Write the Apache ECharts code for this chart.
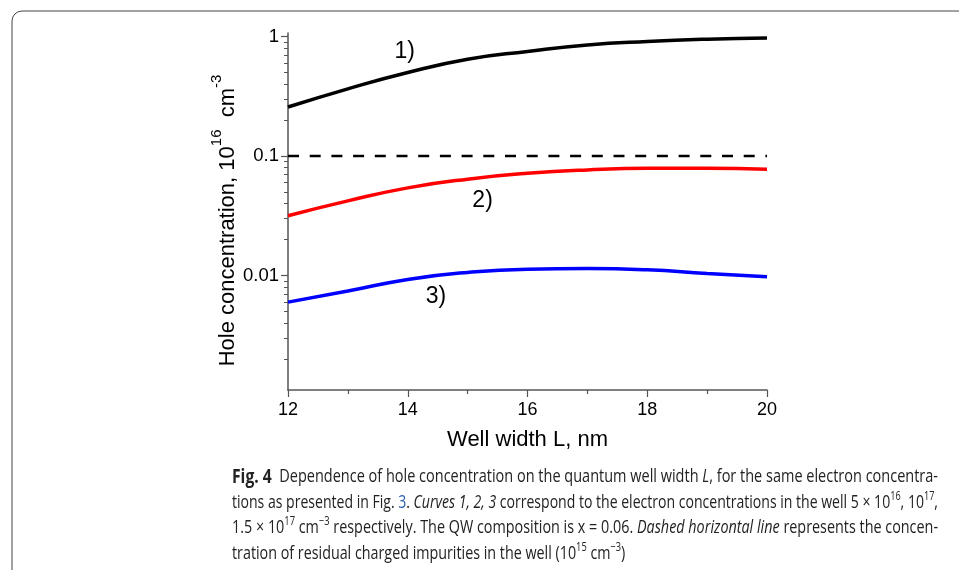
<!DOCTYPE html>
<html>
<head>
<meta charset="utf-8">
<title>Fig. 4</title>
<script src="https://cdn.jsdelivr.net/npm/echarts@6/dist/echarts.min.js"></script>
<style>
    html, body {margin: 0; padding: 0; background: #fff;}
    #holeChart {width: 959px; height: 570px;}
</style>
</head>
<body>
<div id="holeChart"></div>
<script>
"use strict";

// well width, nm
var wellWidth = [12, 13, 14, 15, 16, 17, 18, 19, 20];
// hole concentration, 1e16 cm^-3
var curve1 = [0.257, 0.365, 0.50, 0.645, 0.75, 0.85, 0.91, 0.95, 0.97];
var curve2 = [0.0316, 0.0421, 0.0541, 0.064, 0.0716, 0.0765, 0.0789, 0.0788, 0.0774];
var curve3 = [0.00598, 0.0074, 0.00926, 0.0106, 0.0113, 0.01144, 0.01116, 0.0104, 0.00975];
var impurityLevel = 0.1;
var yMajorTicks = [0.01, 0.1, 1];
var yMinorTicks = [0.002, 0.003, 0.004, 0.005, 0.006, 0.007, 0.008, 0.009,
    0.02, 0.03, 0.04, 0.05, 0.06, 0.07, 0.08, 0.09,
    0.2, 0.3, 0.4, 0.5, 0.6, 0.7, 0.8, 0.9];
var curveLabels = [['1)', 13.95, 0.745], ['2)', 15.25, 0.042], ['3)', 14.47, 0.00669]];

var axisFont = 'Liberation Sans, Arial, sans-serif';
var captionFont = '"Open Sans", "Noto Sans", sans-serif';

function pairs(ys) {
    var out = [];
    for (var i = 0; i < wellWidth.length; i++) {
        out.push([wellWidth[i], ys[i]]);
    }
    return out;
}

function curveSeries(name, ys, color, label) {
    return {
        name: name,
        type: 'line',
        smooth: true,
        symbol: 'none',
        lineStyle: {color: color, width: 3.5},
        data: pairs(ys),
        z: 3,
        markPoint: {
            symbol: 'circle',
            symbolSize: 0,
            silent: true,
            label: {show: true, position: 'inside', color: '#000', fontSize: 23, fontFamily: axisFont,
                formatter: function () { return label[0]; }},
            data: [{coord: [label[1], label[2]]}]
        }
    };
}

var capRich = {
    b: {fontWeight: 'bold', fontSize: 20, fontFamily: captionFont, fill: '#222', lineHeight: 24},
    i: {fontStyle: 'italic', fontSize: 18.5, fontFamily: captionFont, fill: '#222', lineHeight: 24},
    l: {fontSize: 18.5, fontFamily: captionFont, fill: '#2a5db0', lineHeight: 24},
    s: {fontSize: 12, fontFamily: captionFont, fill: '#222', verticalAlign: 'top', lineHeight: 24},
    n: {fontSize: 18.5, fontFamily: captionFont, fill: '#222', lineHeight: 24}
};

var captionLines = [
    '{b|Fig. 4}{n|  Dependence of hole concentration on the quantum well width }{i|L}{n|, for the same electron concentra-}',
    '{n|tions as presented in Fig. }{l|3}{n|. }{i|Curves 1, 2, 3}{n| correspond to the electron concentrations in the well 5 × 10}{s|16}{n|, 10}{s|17}{n|,}',
    '{n|1.5 × 10}{s|17}{n| cm}{s|−3}{n| respectively. The QW composition is x = 0.06. }{i|Dashed horizontal line}{n| represents the concen-}',
    '{n|tration of residual charged impurities in the well (10}{s|15}{n| cm}{s|−3}{n|)}'
];
var captionTop = [465, 491, 516, 542];
var captionWidth = 706;

// measure a rich caption line so it can be squeezed to the column width
var measureCtx = document.createElement('canvas').getContext('2d');
function richWidth(line) {
    var re = /\{(\w+)\|([^}]*)\}/g, m, w = 0;
    while ((m = re.exec(line)) !== null) {
        var st = capRich[m[1]];
        measureCtx.font = (st.fontStyle || 'normal') + ' ' + (st.fontWeight || 'normal') + ' ' +
            st.fontSize + 'px ' + st.fontFamily;
        w += measureCtx.measureText(m[2]).width;
    }
    return w;
}

var graphics = [{
    type: 'rect',
    shape: {x: 12, y: 11, width: 1000, height: 620, r: 10},
    style: {fill: 'none', stroke: '#444', lineWidth: 1},
    silent: true
}];
var scales = [], scaleSum = 0;
for (var c = 0; c < 3; c++) {
    scales.push(captionWidth / richWidth(captionLines[c]));
    scaleSum += scales[c];
}
scales.push(scaleSum / 3);
for (c = 0; c < captionLines.length; c++) {
    graphics.push({
        type: 'text',
        x: 232,
        y: captionTop[c],
        scaleX: scales[c],
        style: {text: captionLines[c], rich: capRich, font: '18.5px ' + captionFont, fill: '#222'},
        silent: true
    });
}

var holeChartOption = {
    animation: false,
    backgroundColor: '#fff',
    grid: {left: 288, right: 192, top: 33, bottom: 180},
    xAxis: {
        type: 'value',
        min: 12,
        max: 20,
        interval: 2,
        name: 'Well width L, nm',
        nameLocation: 'middle',
        nameGap: 39,
        nameTextStyle: {fontSize: 22, color: '#000', fontFamily: axisFont},
        axisLine: {lineStyle: {color: '#555', width: 1.5}},
        axisTick: {length: 7, lineStyle: {color: '#555', width: 1.2}},
        minorTick: {show: true, splitNumber: 2, length: 4, lineStyle: {color: '#555', width: 1.2}},
        axisLabel: {fontSize: 18, color: '#000', margin: 11, fontFamily: axisFont},
        splitLine: {show: false},
        minorSplitLine: {show: false}
    },
    yAxis: [{
        type: 'log',
        logBase: 10,
        min: 0.0011,
        max: 1.07,
        name: '{n|Hole concentration, 10}{s|16}{n|  cm}{s|-3}',
        nameLocation: 'middle',
        nameRotate: 90,
        nameGap: 49,
        nameTextStyle: {
            color: '#000',
            padding: [0, 18, 0, 0],
            rich: {
                n: {fontSize: 22, fontFamily: axisFont, color: '#000', lineHeight: 30, verticalAlign: 'bottom'},
                s: {fontSize: 15, fontFamily: axisFont, color: '#000', lineHeight: 30, verticalAlign: 'top'}
            }
        },
        axisLine: {onZero: false, lineStyle: {color: '#555', width: 1.5}},
        axisTick: {length: 7, customValues: yMajorTicks, lineStyle: {color: '#555', width: 1.2}},
        axisLabel: {fontSize: 18.5, color: '#000', margin: 9, fontFamily: axisFont, customValues: yMajorTicks,
            formatter: function (v) { return String(+(+v).toPrecision(3)); }},
        splitLine: {show: false}
    }, {
        type: 'log',
        logBase: 10,
        min: 0.0011,
        max: 1.07,
        position: 'left',
        axisLine: {show: false},
        axisTick: {length: 4, customValues: yMinorTicks, lineStyle: {color: '#555', width: 1}},
        axisLabel: {show: false},
        splitLine: {show: false}
    }],
    series: [
        curveSeries('1', curve1, '#000000', curveLabels[0]),
        curveSeries('2', curve2, '#ff0000', curveLabels[1]),
        curveSeries('3', curve3, '#0000ff', curveLabels[2]),
        {
            name: 'impurities',
            type: 'line',
            symbol: 'none',
            lineStyle: {color: '#000', width: 2.5, type: [11, 10.7]},
            data: [[wellWidth[0], impurityLevel], [wellWidth[wellWidth.length - 1], impurityLevel]],
            z: 2
        }
    ],
    graphic: graphics
};

function initHoleChart() {
    var holeChart = echarts.init(document.getElementById('holeChart'));
    holeChart.setOption(holeChartOption);
}

initHoleChart();
</script>
</body>
</html>
